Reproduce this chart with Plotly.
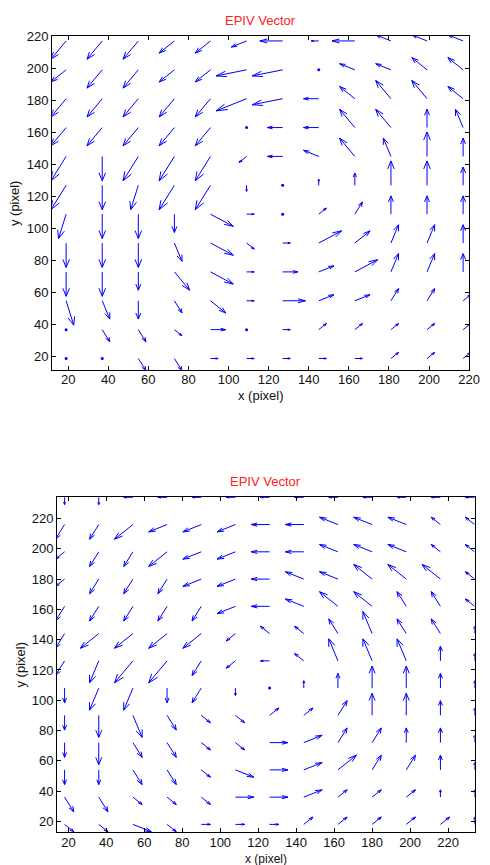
import numpy as np
import plotly.graph_objects as go

# ---------------- data: top panel (grid displacements, rows top->bottom) ----------------
x_top = [19, 37, 55, 73, 91, 109, 127, 145, 163, 181, 199, 217]
y_top = [217, 199, 181, 163, 145, 127, 109, 91, 73, 55, 37, 19]
U_top = [
    [-2, -2, -2, -2, -2, -2, -3, -1, -3, -2, -2, -2],
    [-2, -2, -2, -2, -2, -4, -4, 0, -2, -2, -2, -2],
    [-2, -2, -2, -2, -2, -4, -4, -2, -2, -2, -2, -2],
    [-2, -2, -2, -2, -2, 0, -2, -2, -2, -2, 0, -1],
    [-2, 0, -2, -2, -2, -1, -2, -2, -2, -1, 0, 0],
    [-2, 0, -1, -2, -2, 0, 0, 0, 0, 0, 0, 0],
    [-1, 0, 0, 0, 3, 1, 0, 1, 1, 0, 0, 0],
    [0, 0, 0, 1, 3, 1, 1, 3, 2, 1, 1, 0],
    [0, 0, 0, 2, 3, 1, 2, 2, 3, 1, 1, 0],
    [1, 1, 0, 1, 2, 1, 3, 2, 2, 1, 1, 1],
    [0, 1, 1, 1, 2, 0, 1, 1, 1, 1, 1, 1],
    [0, 0, 1, 1, 1, 1, 1, 1, 1, 1, 1, 1],
]
V_top = [
    [-3, -3, -3, -2, -2, -1, 0, 0, 0, 1, 1, 1],
    [-2, -3, -3, -2, -2, -1, -1, 0, 1, 1, 2, 2],
    [-3, -3, -3, -3, -3, -2, -1, 0, 2, 3, 3, 2],
    [-3, -3, -3, -3, -3, 0, 0, 0, 3, 3, 3, 3],
    [-4, -4, -4, -4, -4, -1, 0, 1, 3, 3, 4, 3],
    [-4, -4, -4, -4, -4, -1, 0, 1, 2, 4, 4, 3],
    [-4, -4, -4, -3, -2, 0, 0, 1, 2, 3, 3, 3],
    [-4, -4, -4, -3, -2, -1, 0, 2, 2, 3, 3, 3],
    [-4, -4, -3, -3, -2, 0, 0, 1, 2, 3, 3, 3],
    [-4, -3, -3, -2, -2, 0, 0, 1, 1, 2, 2, 1],
    [0, -2, -2, -1, 0, 0, 0, 1, 1, 1, 1, 1],
    [0, 0, -2, -2, 0, 0, 0, 0, 0, 1, 1, 1],
]

# ---------------- data: bottom panel ----------------
x_bot = [18, 36, 54, 72, 90, 108, 126, 144, 162, 180, 198, 216, 234]
y_bot = [234, 216, 198, 180, 162, 144, 126, 108, 90, 72, 54, 36, 18]
U_bot = [
    [0, 0, -1, -1, -1, -1, -1, -1, -1, -1, -1, -1, -1],
    [-1, -1, -2, -2, -2, -2, -2, -2, -2, -2, -2, -1, -1],
    [-1, -1, -1, -2, -2, -2, -2, -2, -2, -2, -2, -1, -1],
    [-1, -1, -1, -1, -2, -2, -2, -2, -2, -2, -2, -2, -1],
    [-1, -1, -1, -1, -1, -2, -2, -2, -2, -2, -1, -1, -1],
    [-1, -2, -2, -2, -2, -1, -1, -1, -1, -1, -1, -1, 0],
    [-1, -1, -2, -2, -1, -1, -1, -1, -1, -1, -1, 0, 0],
    [0, -1, -1, 0, -1, 0, 0, 0, 0, 0, 0, 0, 0],
    [0, 0, 1, 1, 1, 1, 1, 1, 1, 0, 0, 0, 0],
    [0, 0, 1, 1, 1, 1, 2, 2, 1, 1, 0, 0, 0],
    [0, 0, 1, 1, 1, 2, 2, 2, 2, 1, 1, 0, 0],
    [1, 1, 1, 1, 1, 2, 2, 2, 1, 1, 1, 0, 0],
    [1, 1, 2, 1, 1, 1, 1, 1, 1, 1, 1, 1, 0],
]
V_bot = [
    [-1, -1, 0, 0, 0, 0, 0, 0, 0, 0, 0, 0, 0],
    [-2, -2, -2, -1, -1, -1, 0, 0, 1, 1, 1, 1, 1],
    [-1, -2, -2, -2, -1, -1, 0, 0, 1, 1, 1, 1, 1],
    [-1, -2, -2, -2, -1, -1, 0, 1, 1, 2, 2, 2, 1],
    [-2, -2, -2, -2, -2, -1, 0, 1, 2, 2, 2, 2, 1],
    [-2, -2, -2, -2, -2, -1, 1, 1, 2, 3, 2, 2, 1],
    [-2, -3, -3, -3, -2, -1, 0, 1, 3, 3, 3, 2, 1],
    [-2, -3, -3, -2, -2, -1, 0, 1, 2, 3, 3, 2, 1],
    [-2, -3, -3, -2, -1, -1, 1, 1, 2, 3, 3, 2, 1],
    [-2, -3, -2, -2, -1, -1, 0, 1, 2, 2, 2, 2, 1],
    [-2, -2, -2, -2, -1, -1, 0, 1, 2, 2, 2, 2, 1],
    [-2, -2, -1, -1, -1, 0, 0, 1, 1, 1, 1, 1, 1],
    [-1, -1, -1, -1, 0, 0, 0, 1, 1, 1, 1, 1, 1],
]

ticks = [20, 40, 60, 80, 100, 120, 140, 160, 180, 200, 220]
title_text = "EPIV Vector"
xlabel = "x (pixel)"
ylabel = "y (pixel)"

# ---------------- style ----------------
SCALE_TOP = 3.8
SCALE_BOT = 4.85
ARROW = "#0000FF"
FONT = "Liberation Sans, Arial, sans-serif"


def quiver_lines(xs, ys, U, V, s, alpha=0.33, beta=0.33):
    X, Y = np.meshgrid(xs, ys)
    u = np.asarray(U, float) * s
    v = np.asarray(V, float) * s
    lx, ly, zx, zy = [], [], [], []
    for xi, yi, ui, vi in zip(X.ravel(), Y.ravel(), u.ravel(), v.ravel()):
        if ui == 0 and vi == 0:
            zx.append(xi); zy.append(yi)
            continue
        tx, ty = xi + ui, yi + vi
        lx += [xi, tx, None,
               tx - alpha * (ui + beta * vi), tx, tx - alpha * (ui - beta * vi), None]
        ly += [yi, ty, None,
               ty - alpha * (vi - beta * ui), ty, ty - alpha * (vi + beta * ui), None]
    return lx, ly, zx, zy


fig = go.Figure()
for (xs, ys, U, V, s, xa, ya) in [
    (x_top, y_top, U_top, V_top, SCALE_TOP, "x", "y"),
    (x_bot, y_bot, U_bot, V_bot, SCALE_BOT, "x2", "y2"),
]:
    lx, ly, zx, zy = quiver_lines(xs, ys, U, V, s)
    fig.add_trace(go.Scatter(x=lx, y=ly, mode="lines", xaxis=xa, yaxis=ya,
                             line=dict(color=ARROW, width=1), hoverinfo="skip",
                             showlegend=False))
    fig.add_trace(go.Scatter(x=zx, y=zy, mode="markers", xaxis=xa, yaxis=ya,
                             marker=dict(color=ARROW, size=3), hoverinfo="skip",
                             showlegend=False))

W, H = 490, 865
dom = {
    "top": dict(x=(53.3, 480.0), y=(29.3, 365.7)),
    "bot": dict(x=(58.3, 485.5), y=(494.0, 831.7)),
}


def xdom(p):
    return [p[0] / W, p[1] / W]


def ydom(p):
    return [1 - p[1] / H, 1 - p[0] / H]


axis_common = dict(showline=True, linecolor="black", linewidth=1, mirror="ticks",
                   ticks="inside", ticklen=4, tickcolor="black", showgrid=False,
                   zeroline=False, tickmode="array", tickvals=ticks,
                   ticklabeloverflow="allow",
                   tickfont=dict(family=FONT, size=13, color="#111"))

fig.update_layout(
    width=W, height=H, margin=dict(l=0, r=0, t=0, b=0),
    plot_bgcolor="white", paper_bgcolor="white",
    xaxis=dict(domain=xdom(dom["top"]["x"]), range=[12, 220.05], anchor="y",
               ticklabelstandoff=-2, **axis_common),
    yaxis=dict(domain=ydom(dom["top"]["y"]), range=[12, 220.05], anchor="x", **axis_common),
    xaxis2=dict(domain=xdom(dom["bot"]["x"]), range=[14, 234], anchor="y2",
                ticklabelstandoff=-2, **axis_common),
    yaxis2=dict(domain=ydom(dom["bot"]["y"]), range=[13, 234.2], anchor="x2", **axis_common),
)

anns = []
for key, ty, xy, yx, xs_ in [("top", 14, 391.5, 15.5, 13), ("bot", 478, 858.5, 20.5, 12)]:
    cx = (dom[key]["x"][0] + dom[key]["x"][1]) / 2
    cy = (dom[key]["y"][0] + dom[key]["y"][1]) / 2
    anns.append(dict(text=title_text, x=cx / W, y=1 - ty / H, xref="paper", yref="paper",
                     showarrow=False, xanchor="center", yanchor="middle",
                     font=dict(family=FONT, size=13, color="#FF2020")))
    anns.append(dict(text=xlabel, x=cx / W, y=1 - xy / H, xref="paper", yref="paper",
                     showarrow=False, xanchor="center", yanchor="middle",
                     font=dict(family=FONT, size=xs_, color="#111")))
    anns.append(dict(text=ylabel, x=yx / W, y=1 - cy / H, xref="paper", yref="paper",
                     showarrow=False, xanchor="center", yanchor="middle", textangle=-90,
                     font=dict(family=FONT, size=13, color="#111")))
fig.update_layout(annotations=anns)

fig.write_html(
    "out.html",
    config={"displayModeBar": False},
    post_script="document.body.style.margin='0';"
                "document.body.style.overflow='hidden';"
                "document.documentElement.style.overflow='hidden';",
)
